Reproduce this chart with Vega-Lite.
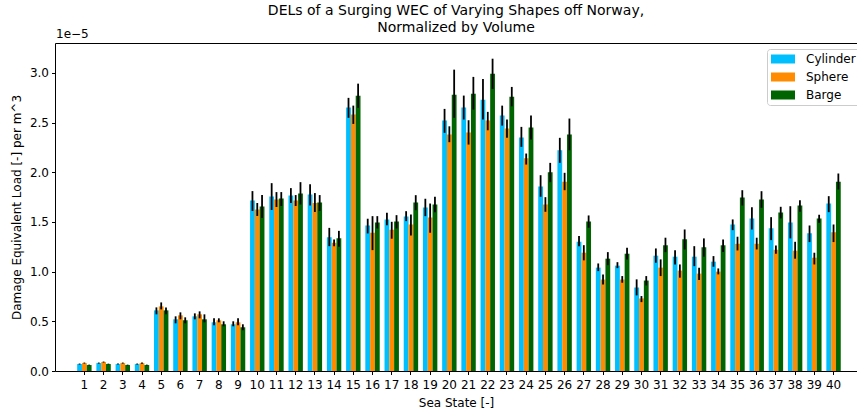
{
  "$schema": "https://vega.github.io/schema/vega-lite/v6.json",
  "autosize": {"type": "none"},
  "padding": {"left": 55, "top": 43, "right": 0, "bottom": 38},
  "width": 802,
  "height": 328,
  "background": "white",
  "config": {"font": "DejaVu Sans", "view": {"stroke": "#000", "strokeWidth": 1}},
  "title": {
    "text": ["DELs of a Surging WEC of Varying Shapes off Norway,", "Normalized by Volume"],
    "fontSize": 14, "fontWeight": "normal", "color": "#000", "anchor": "middle", "frame": "group", "offset": -7, "lineHeight": 17
  },
  "data": {"values": [
    {"s":1,"g":"Cylinder","v":0.07,"lo":0.065,"hi":0.075},{"s":1,"g":"Sphere","v":0.08,"lo":0.075,"hi":0.085},{"s":1,"g":"Barge","v":0.06,"lo":0.056,"hi":0.064},
    {"s":2,"g":"Cylinder","v":0.08,"lo":0.075,"hi":0.085},{"s":2,"g":"Sphere","v":0.09,"lo":0.085,"hi":0.095},{"s":2,"g":"Barge","v":0.07,"lo":0.066,"hi":0.074},
    {"s":3,"g":"Cylinder","v":0.07,"lo":0.065,"hi":0.075},{"s":3,"g":"Sphere","v":0.08,"lo":0.075,"hi":0.085},{"s":3,"g":"Barge","v":0.06,"lo":0.056,"hi":0.064},
    {"s":4,"g":"Cylinder","v":0.07,"lo":0.065,"hi":0.075},{"s":4,"g":"Sphere","v":0.08,"lo":0.074,"hi":0.086},{"s":4,"g":"Barge","v":0.06,"lo":0.056,"hi":0.064},
    {"s":5,"g":"Cylinder","v":0.61,"lo":0.57,"hi":0.64},{"s":5,"g":"Sphere","v":0.65,"lo":0.62,"hi":0.69},{"s":5,"g":"Barge","v":0.61,"lo":0.57,"hi":0.64},
    {"s":6,"g":"Cylinder","v":0.52,"lo":0.48,"hi":0.55},{"s":6,"g":"Sphere","v":0.56,"lo":0.52,"hi":0.59},{"s":6,"g":"Barge","v":0.51,"lo":0.48,"hi":0.54},
    {"s":7,"g":"Cylinder","v":0.55,"lo":0.52,"hi":0.58},{"s":7,"g":"Sphere","v":0.57,"lo":0.53,"hi":0.6},{"s":7,"g":"Barge","v":0.52,"lo":0.49,"hi":0.57},
    {"s":8,"g":"Cylinder","v":0.49,"lo":0.46,"hi":0.53},{"s":8,"g":"Sphere","v":0.51,"lo":0.49,"hi":0.53},{"s":8,"g":"Barge","v":0.47,"lo":0.45,"hi":0.5},
    {"s":9,"g":"Cylinder","v":0.47,"lo":0.45,"hi":0.5},{"s":9,"g":"Sphere","v":0.49,"lo":0.46,"hi":0.53},{"s":9,"g":"Barge","v":0.44,"lo":0.41,"hi":0.47},
    {"s":10,"g":"Cylinder","v":1.715,"lo":1.61,"hi":1.81},{"s":10,"g":"Sphere","v":1.625,"lo":1.56,"hi":1.69},{"s":10,"g":"Barge","v":1.655,"lo":1.54,"hi":1.77},
    {"s":11,"g":"Cylinder","v":1.755,"lo":1.62,"hi":1.89},{"s":11,"g":"Sphere","v":1.725,"lo":1.65,"hi":1.8},{"s":11,"g":"Barge","v":1.735,"lo":1.66,"hi":1.8},
    {"s":12,"g":"Cylinder","v":1.765,"lo":1.69,"hi":1.84},{"s":12,"g":"Sphere","v":1.715,"lo":1.66,"hi":1.77},{"s":12,"g":"Barge","v":1.785,"lo":1.675,"hi":1.9},
    {"s":13,"g":"Cylinder","v":1.775,"lo":1.665,"hi":1.88},{"s":13,"g":"Sphere","v":1.69,"lo":1.6,"hi":1.79},{"s":13,"g":"Barge","v":1.695,"lo":1.61,"hi":1.77},
    {"s":14,"g":"Cylinder","v":1.345,"lo":1.256,"hi":1.44},{"s":14,"g":"Sphere","v":1.29,"lo":1.256,"hi":1.324},{"s":14,"g":"Barge","v":1.335,"lo":1.25,"hi":1.41},
    {"s":15,"g":"Cylinder","v":2.65,"lo":2.547,"hi":2.748},{"s":15,"g":"Sphere","v":2.58,"lo":2.486,"hi":2.67},{"s":15,"g":"Barge","v":2.77,"lo":2.647,"hi":2.891},
    {"s":16,"g":"Cylinder","v":1.465,"lo":1.384,"hi":1.532},{"s":16,"g":"Sphere","v":1.39,"lo":1.216,"hi":1.558},{"s":16,"g":"Barge","v":1.495,"lo":1.434,"hi":1.558},
    {"s":17,"g":"Cylinder","v":1.525,"lo":1.467,"hi":1.592},{"s":17,"g":"Sphere","v":1.42,"lo":1.331,"hi":1.501},{"s":17,"g":"Barge","v":1.505,"lo":1.434,"hi":1.568},
    {"s":18,"g":"Cylinder","v":1.555,"lo":1.508,"hi":1.608},{"s":18,"g":"Sphere","v":1.475,"lo":1.364,"hi":1.575},{"s":18,"g":"Barge","v":1.695,"lo":1.618,"hi":1.769},
    {"s":19,"g":"Cylinder","v":1.645,"lo":1.558,"hi":1.733},{"s":19,"g":"Sphere","v":1.545,"lo":1.391,"hi":1.685},{"s":19,"g":"Barge","v":1.675,"lo":1.598,"hi":1.753},
    {"s":20,"g":"Cylinder","v":2.52,"lo":2.396,"hi":2.637},{"s":20,"g":"Sphere","v":2.38,"lo":2.302,"hi":2.462},{"s":20,"g":"Barge","v":2.78,"lo":2.547,"hi":3.032},
    {"s":21,"g":"Cylinder","v":2.65,"lo":2.53,"hi":2.771},{"s":21,"g":"Sphere","v":2.4,"lo":2.278,"hi":2.523},{"s":21,"g":"Barge","v":2.79,"lo":2.63,"hi":2.959},
    {"s":22,"g":"Cylinder","v":2.73,"lo":2.53,"hi":2.939},{"s":22,"g":"Sphere","v":2.52,"lo":2.422,"hi":2.607},{"s":22,"g":"Barge","v":2.99,"lo":2.838,"hi":3.142},
    {"s":23,"g":"Cylinder","v":2.57,"lo":2.469,"hi":2.67},{"s":23,"g":"Sphere","v":2.44,"lo":2.346,"hi":2.53},{"s":23,"g":"Barge","v":2.76,"lo":2.663,"hi":2.858},
    {"s":24,"g":"Cylinder","v":2.35,"lo":2.255,"hi":2.456},{"s":24,"g":"Sphere","v":2.14,"lo":2.077,"hi":2.188},{"s":24,"g":"Barge","v":2.45,"lo":2.329,"hi":2.57},
    {"s":25,"g":"Cylinder","v":1.855,"lo":1.753,"hi":1.97},{"s":25,"g":"Sphere","v":1.675,"lo":1.602,"hi":1.749},{"s":25,"g":"Barge","v":2.0,"lo":1.9,"hi":2.094},
    {"s":26,"g":"Cylinder","v":2.22,"lo":2.094,"hi":2.346},{"s":26,"g":"Sphere","v":1.905,"lo":1.819,"hi":1.994},{"s":26,"g":"Barge","v":2.38,"lo":2.221,"hi":2.54},
    {"s":27,"g":"Cylinder","v":1.3,"lo":1.256,"hi":1.357},{"s":27,"g":"Sphere","v":1.19,"lo":1.113,"hi":1.266},{"s":27,"g":"Barge","v":1.505,"lo":1.441,"hi":1.565},
    {"s":28,"g":"Cylinder","v":1.04,"lo":1.005,"hi":1.082},{"s":28,"g":"Sphere","v":0.92,"lo":0.871,"hi":0.972},{"s":28,"g":"Barge","v":1.13,"lo":1.065,"hi":1.196},
    {"s":29,"g":"Cylinder","v":1.06,"lo":1.035,"hi":1.095},{"s":29,"g":"Sphere","v":0.92,"lo":0.888,"hi":0.955},{"s":29,"g":"Barge","v":1.18,"lo":1.123,"hi":1.24},
    {"s":30,"g":"Cylinder","v":0.84,"lo":0.761,"hi":0.922},{"s":30,"g":"Sphere","v":0.73,"lo":0.693,"hi":0.754},{"s":30,"g":"Barge","v":0.91,"lo":0.861,"hi":0.955},
    {"s":31,"g":"Cylinder","v":1.16,"lo":1.089,"hi":1.233},{"s":31,"g":"Sphere","v":1.04,"lo":0.955,"hi":1.123},{"s":31,"g":"Barge","v":1.265,"lo":1.196,"hi":1.341},
    {"s":32,"g":"Cylinder","v":1.15,"lo":1.072,"hi":1.216},{"s":32,"g":"Sphere","v":1.01,"lo":0.939,"hi":1.072},{"s":32,"g":"Barge","v":1.325,"lo":1.223,"hi":1.424},
    {"s":33,"g":"Cylinder","v":1.15,"lo":1.055,"hi":1.256},{"s":33,"g":"Sphere","v":0.98,"lo":0.915,"hi":1.039},{"s":33,"g":"Barge","v":1.245,"lo":1.15,"hi":1.334},
    {"s":34,"g":"Cylinder","v":1.1,"lo":1.049,"hi":1.156},{"s":34,"g":"Sphere","v":1.0,"lo":0.972,"hi":1.032},{"s":34,"g":"Barge","v":1.265,"lo":1.196,"hi":1.324},
    {"s":35,"g":"Cylinder","v":1.475,"lo":1.417,"hi":1.525},{"s":35,"g":"Sphere","v":1.28,"lo":1.213,"hi":1.351},{"s":35,"g":"Barge","v":1.745,"lo":1.665,"hi":1.819},
    {"s":36,"g":"Cylinder","v":1.535,"lo":1.424,"hi":1.648},{"s":36,"g":"Sphere","v":1.28,"lo":1.223,"hi":1.341},{"s":36,"g":"Barge","v":1.725,"lo":1.642,"hi":1.809},
    {"s":37,"g":"Cylinder","v":1.435,"lo":1.317,"hi":1.548},{"s":37,"g":"Sphere","v":1.22,"lo":1.18,"hi":1.263},{"s":37,"g":"Barge","v":1.595,"lo":1.535,"hi":1.652},
    {"s":38,"g":"Cylinder","v":1.495,"lo":1.334,"hi":1.658},{"s":38,"g":"Sphere","v":1.21,"lo":1.13,"hi":1.3},{"s":38,"g":"Barge","v":1.665,"lo":1.602,"hi":1.719},
    {"s":39,"g":"Cylinder","v":1.385,"lo":1.297,"hi":1.464},{"s":39,"g":"Sphere","v":1.14,"lo":1.072,"hi":1.19},{"s":39,"g":"Barge","v":1.535,"lo":1.491,"hi":1.572},
    {"s":40,"g":"Cylinder","v":1.685,"lo":1.598,"hi":1.759},{"s":40,"g":"Sphere","v":1.395,"lo":1.297,"hi":1.474},{"s":40,"g":"Barge","v":1.905,"lo":1.826,"hi":1.987}
  ]},
  "layer": [
    {
      "mark": {"type": "bar"},
      "encoding": {
        "x": {
          "field": "s", "type": "ordinal",
          "scale": {"paddingInner": 0.25, "paddingOuter": 1.73, "align": 0.577},
          "axis": {
            "title": "Sea State [-]", "labelAngle": 0, "domain": false, "ticks": true, "tickSize": 3.5,
            "tickColor": "#000", "labelPadding": 5, "labelFontSize": 12, "labelColor": "#000",
            "titleFontSize": 12, "titleFontWeight": "normal", "titleColor": "#000", "titlePadding": 7
          }
        },
        "xOffset": {"field": "g", "type": "nominal", "sort": ["Cylinder", "Sphere", "Barge"], "scale": {"paddingInner": 0, "paddingOuter": 0}},
        "y": {
          "field": "v", "type": "quantitative",
          "scale": {"domain": [0, 3.3], "nice": false},
          "axis": {
            "title": "Damage Equivalent Load [-] per m^3", "values": [0, 0.5, 1, 1.5, 2, 2.5, 3], "format": ".1f",
            "grid": false, "domain": false, "tickSize": 3.5, "tickColor": "#000", "labelPadding": 3,
            "labelFontSize": 12, "labelColor": "#000", "titleFontSize": 12, "titleFontWeight": "normal",
            "titleColor": "#000", "titlePadding": 6
          }
        },
        "color": {
          "field": "g", "type": "nominal", "sort": ["Cylinder", "Sphere", "Barge"],
          "scale": {"domain": ["Cylinder", "Sphere", "Barge"], "range": ["#00BFFF", "#FF8C00", "#006400"]},
          "legend": {
            "title": null, "orient": "none", "legendX": 712, "legendY": 6,
            "symbolType": "M-1,-0.75L3,-0.75L3,0.75L-1,0.75Z", "symbolSize": 144, "symbolStrokeWidth": 0,
            "labelFontSize": 12, "labelColor": "#000", "labelOffset": 23, "rowPadding": 6, "padding": 4,
            "fillColor": "white", "strokeColor": "#cccccc", "cornerRadius": 3
          }
        }
      }
    },
    {
      "mark": {"type": "rule", "color": "#000", "strokeWidth": 1.8},
      "encoding": {
        "x": {"field": "s", "type": "ordinal"},
        "xOffset": {"field": "g", "type": "nominal", "sort": ["Cylinder", "Sphere", "Barge"]},
        "y": {"field": "lo", "type": "quantitative"},
        "y2": {"field": "hi"}
      }
    },
    {
      "data": {"values": [{"t": "1e\u22125"}]},
      "mark": {"type": "text", "align": "left", "baseline": "bottom", "dx": 1, "dy": -2, "fontSize": 12, "color": "#000"},
      "encoding": {
        "x": {"value": 0},
        "y": {"datum": 3.3, "type": "quantitative"},
        "text": {"field": "t"}
      }
    }
  ]
}
